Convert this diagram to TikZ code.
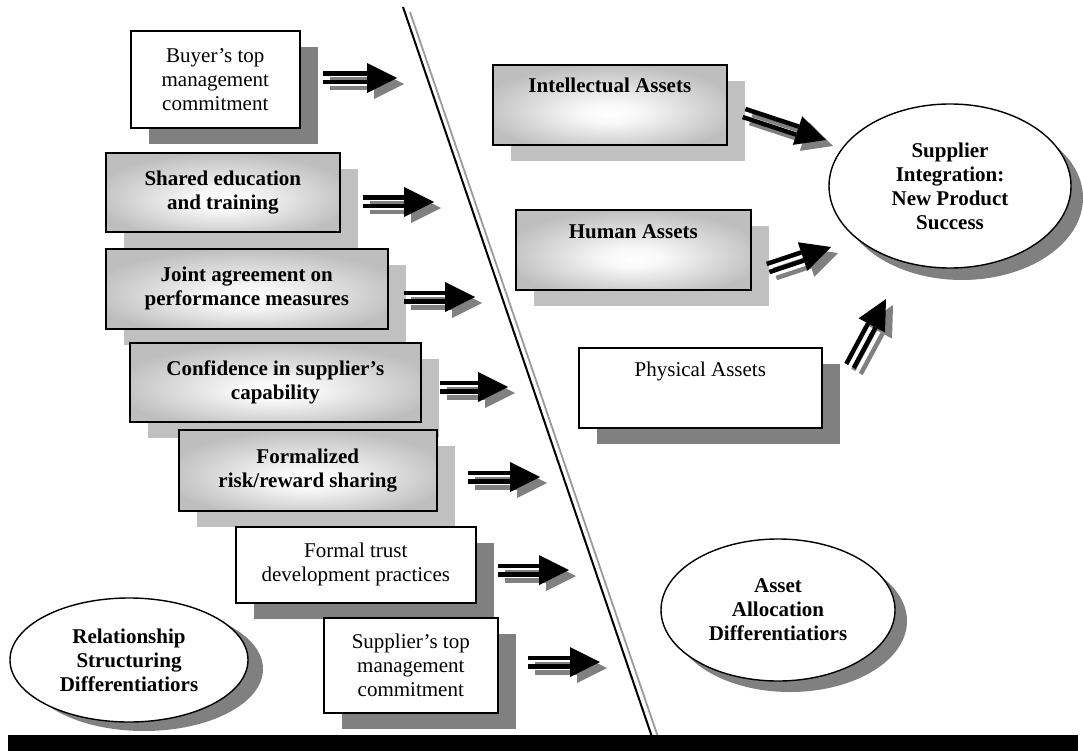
\documentclass[tikz,border=0pt]{standalone}
\usepackage{fontspec}
\setmainfont{Liberation Serif}
\usetikzlibrary{calc,shapes.geometric,shadows}

\definecolor{shadowdark}{HTML}{808080}
\definecolor{shadowlight}{HTML}{C0C0C0}
\definecolor{panelgray}{HTML}{BEBEBE}
\definecolor{railgray}{HTML}{9A9A9A}

% soft highlight in the lower middle of the grey panels
\pgfdeclareradialshading{panelglow}{\pgfpoint{0bp}{-6bp}}{%
  color(0bp)=(white); color(6bp)=(white!90!panelgray);
  color(28bp)=(panelgray); color(50bp)=(panelgray)}

% one layer of a double-shafted block arrow from #1 to #2
\newcommand\fatarrowshape[2]{%
  \draw[line width=4.5pt] ($(#1)!4.25pt!90:(#2)$) -- ($(#2-base)!4.25pt!90:(#2)$);
  \draw[line width=4.5pt] ($(#1)!4.25pt!-90:(#2)$) -- ($(#2-base)!4.25pt!-90:(#2)$);
  \fill ($(#2-base)!15pt!90:(#2)$) -- (#2) -- ($(#2-base)!15pt!-90:(#2)$) -- cycle;}
% block arrow with its grey cast shadow
\newcommand\fatarrow[2]{%
  \coordinate (#2-base) at ($(#2)!30pt!(#1)$);
  \begin{scope}[arrowshade]\fatarrowshape{#1}{#2}\end{scope}
  \begin{scope}[arrowbody]\fatarrowshape{#1}{#2}\end{scope}}

\begin{document}
\begin{tikzpicture}[x=1pt,y=-1pt,
  lbl/.style={font=\fontsize{21}{24}\selectfont, align=center},
  boldlbl/.style={font=\fontsize{21}{24}\selectfont\bfseries, align=center},
  panel/.style={draw, line width=1.6pt, anchor=north west, inner sep=0pt},
  plainbox/.style={panel, fill=white, lbl,
    drop shadow={shadow xshift=18pt, shadow yshift=-16pt, fill=shadowdark, opacity=1}},
  glowbox/.style={panel, shading=panelglow, boldlbl,
    drop shadow={shadow xshift=18pt, shadow yshift=-16pt, fill=shadowlight, opacity=1}},
  oval/.style={ellipse, draw, line width=1.4pt, fill=white, inner sep=0pt, boldlbl},
  ovalshadow/.style 2 args={drop shadow={shadow xshift=#1pt, shadow yshift=-#2pt,
    fill=shadowdark, opacity=1}},
  arrowshade/.style={color=shadowdark, transform canvas={shift={(7,6)}}},
  arrowbody/.style={color=black}]

\useasboundingbox (0,0) rectangle (1083,751);

% dividing double rule and base bar
\coordinate (railtop) at (403,7);
\coordinate (railbot) at (652,737);
\coordinate (railtop2) at (410,12);
\coordinate (railbot2) at (658,737);
\draw[line width=2pt] (railtop) -- (railbot);
\draw[railgray, line width=1.8pt] (railtop2) -- (railbot2);
\fill (8,735) rectangle (1078,751);

% relationship structuring differentiators (left column)
\node[plainbox, minimum width=169pt, minimum height=97pt] (buyer) at (130,30)
  {Buyer’s top\\management\\commitment};
\node[glowbox, minimum width=234pt, minimum height=79pt] (educ) at (105,152)
  {Shared education\\and training};
\node[glowbox, minimum width=282pt, minimum height=80pt] (joint) at (105,248)
  {Joint agreement on\\performance measures};
\node[glowbox, minimum width=291pt, minimum height=79pt] (conf) at (129,342)
  {Confidence in supplier’s\\capability};
\node[glowbox, minimum width=258pt, minimum height=81pt] (risk) at (178,429)
  {Formalized\\risk/reward sharing};
\node[plainbox, minimum width=240pt, minimum height=76pt] (trust) at (235,526)
  {Formal trust\\development practices};
\node[plainbox, minimum width=174pt, minimum height=95pt] (suppl) at (323,617)
  {Supplier’s top\\management\\commitment};

% asset allocation differentiators (right column)
\node[glowbox, minimum width=234pt, minimum height=80pt] (intel) at (492,64) {};
\node[boldlbl, anchor=base] (intelt) at ($(intel.north)+(0,29)$) {Intellectual Assets};
\node[glowbox, minimum width=235pt, minimum height=80pt] (human) at (515,209) {};
\node[boldlbl, anchor=base] (humant) at ($(human.north)+(0,29)$) {Human Assets};
\node[plainbox, minimum width=243pt, minimum height=80pt] (phys) at (578,347) {};
\node[lbl, anchor=base] (physt) at ($(phys.north)+(0,29)$) {Physical Assets};

% ovals
\node[oval, ovalshadow={12}{12}, minimum width=242pt, minimum height=164pt] (goal) at (950,186)
  {Supplier\\Integration:\\New Product\\Success};
\node[oval, ovalshadow={12}{11}, minimum width=234pt, minimum height=142pt] (asset) at (778,610)
  {Asset\\Allocation\\Differentiatiors};
\node[oval, ovalshadow={15}{9}, minimum width=238pt, minimum height=124pt] (rel) at (129,660)
  {Relationship\\Structuring\\Differentiatiors};

% arrow end points
\coordinate (a1s) at (323,78);  \coordinate (a1e) at (397,78);
\coordinate (a2s) at (363,202); \coordinate (a2e) at (434,202);
\coordinate (a3s) at (404,297); \coordinate (a3e) at (475,297);
\coordinate (a4s) at (440,387); \coordinate (a4e) at (508,387);
\coordinate (a5s) at (468,477); \coordinate (a5e) at (540,477);
\coordinate (a6s) at (498,570); \coordinate (a6e) at (569,570);
\coordinate (a7s) at (528,662); \coordinate (a7e) at (600,662);
\coordinate (a8s) at (744,113); \coordinate (a8e) at (826,140);
\coordinate (a9s) at (768,268); \coordinate (a9e) at (831,247);
\coordinate (a10s) at (850,366); \coordinate (a10e) at (886,299);

\fatarrow{a1s}{a1e}
\fatarrow{a2s}{a2e}
\fatarrow{a3s}{a3e}
\fatarrow{a4s}{a4e}
\fatarrow{a5s}{a5e}
\fatarrow{a6s}{a6e}
\fatarrow{a7s}{a7e}
\fatarrow{a8s}{a8e}
\fatarrow{a9s}{a9e}
\fatarrow{a10s}{a10e}

\end{tikzpicture}
\end{document}
